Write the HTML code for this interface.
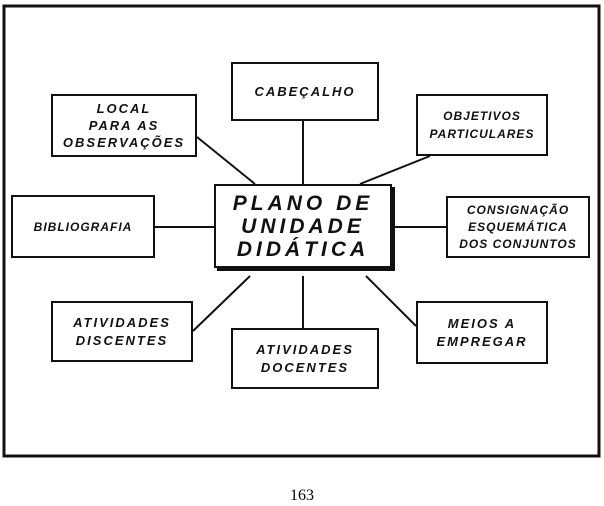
<!DOCTYPE html>
<html><head><meta charset="utf-8"><style>
body{margin:0;width:604px;height:506px;background:#fff;position:relative;overflow:hidden;font-family:"Liberation Sans",sans-serif}
.b{position:absolute;border:2px solid #111;box-sizing:border-box;display:flex;align-items:center;justify-content:center;text-align:center;font-style:italic;font-weight:bold;font-size:13px;line-height:18px;letter-spacing:2px;color:#111}
</style></head><body>
<svg width="604" height="506" style="position:absolute;left:0;top:0">
<rect x="4" y="6" width="595" height="450" fill="none" stroke="#111" stroke-width="3"/>
<g stroke="#111" stroke-width="2">
<line x1="303" y1="121" x2="303" y2="184"/>
<line x1="197" y1="137" x2="255" y2="184"/>
<line x1="430" y1="156" x2="360" y2="184"/>
<line x1="155" y1="227" x2="214" y2="227"/>
<line x1="393" y1="227" x2="446" y2="227"/>
<line x1="193" y1="331" x2="250" y2="276"/>
<line x1="303" y1="276" x2="303" y2="328"/>
<line x1="416" y1="326" x2="366" y2="276"/>
</g>
<rect x="217" y="187" width="178" height="84" fill="#111"/>
</svg>
<div class="b" style="left:231px;top:62px;width:148px;height:59px">CABEÇALHO</div>
<div class="b" style="left:51px;top:94px;width:146px;height:63px;line-height:17px">LOCAL<br>PARA AS<br>OBSERVAÇÕES</div>
<div class="b" style="left:416px;top:94px;width:132px;height:62px;font-size:12px;letter-spacing:1px">OBJETIVOS<br>PARTICULARES</div>
<div class="b" style="left:214px;top:184px;width:178px;height:84px;background:#fff;font-size:21px;line-height:23px;letter-spacing:4px">PLANO DE<br>UNIDADE<br>DIDÁTICA</div>
<div class="b" style="left:11px;top:195px;width:144px;height:63px;font-size:12px;letter-spacing:1px">BIBLIOGRAFIA</div>
<div class="b" style="left:446px;top:196px;width:144px;height:62px;font-size:12px;letter-spacing:1px;line-height:17px">CONSIGNAÇÃO<br>ESQUEMÁTICA<br>DOS CONJUNTOS</div>
<div class="b" style="left:51px;top:301px;width:142px;height:61px">ATIVIDADES<br>DISCENTES</div>
<div class="b" style="left:231px;top:328px;width:148px;height:61px">ATIVIDADES<br>DOCENTES</div>
<div class="b" style="left:416px;top:301px;width:132px;height:63px">MEIOS A<br>EMPREGAR</div>
<div style="position:absolute;left:0;width:604px;top:487px;text-align:center;font-family:'Liberation Serif',serif;font-size:16px">163</div>
</body></html>
